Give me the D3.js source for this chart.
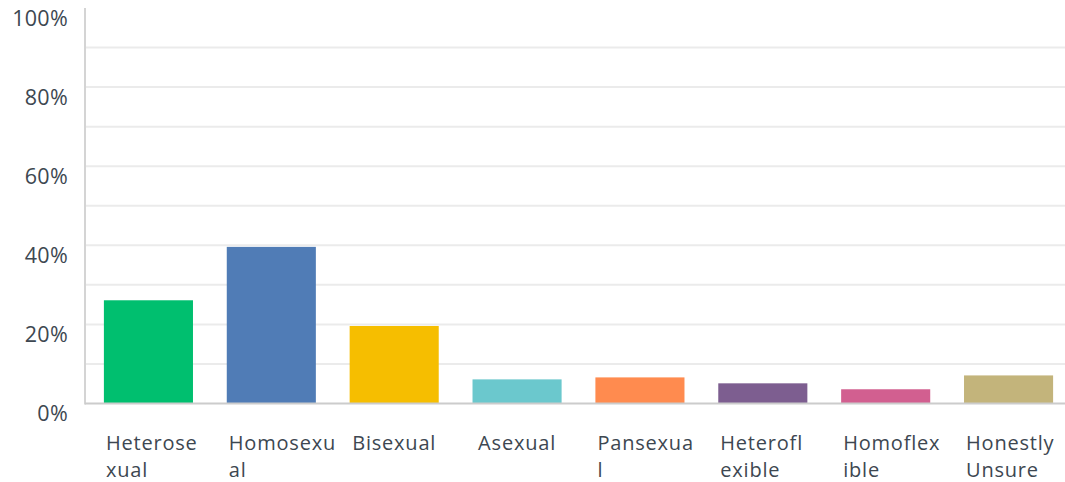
<!DOCTYPE html>
<html lang="en">
<head>
<meta charset="utf-8">
<title>Orientation</title>
<script src="https://cdn.jsdelivr.net/npm/d3@7"></script>
<style>
  html, body { margin: 0; padding: 0; background: #fff; }
  svg { display: block; }
</style>
</head>
<body>
<script>
// chart data
var categories = ["Heterosexual", "Homosexual", "Bisexual", "Asexual", "Pansexual", "Heteroflexible", "Homoflexible", "Honestly Unsure"];
var values = [26.1, 39.6, 19.6, 6.1, 6.6, 5.1, 3.6, 7.1];
var colors = ["#00bf6f", "#507cb6", "#f6be00", "#6bc8cd", "#ff8b4f", "#7d5e90", "#d25f90", "#c3b47b"];
// tick labels, broken the way the source wraps them
var tickLines = [["Heterose", "xual"], ["Homosexu", "al"], ["Bisexual"], ["Asexual"], ["Pansexua", "l"], ["Heterofl", "exible"], ["Homoflex", "ible"], ["Honestly", "Unsure"]];
var yTicks = [0, 20, 40, 60, 80, 100];
var gridTicks = [10, 20, 30, 40, 50, 60, 70, 80, 90];

var w = 1065, h = 482;
var plotLeft = 85, plotTop = 8, plotBottom = 403.5;

var svg = d3.select("body").append("svg")
  .attr("width", w)
  .attr("height", h);

var x = d3.scaleBand()
  .domain(categories)
  .range([87, 1070])
  .paddingInner(0.275)
  .paddingOuter(0.1375);

var y = d3.scaleLinear()
  .domain([0, 100])
  .range([plotBottom, plotTop]);

// gridlines
svg.append("g")
  .selectAll("line")
  .data(gridTicks)
  .enter()
  .append("line")
  .attr("x1", plotLeft)
  .attr("x2", w)
  .attr("y1", function(d) { return y(d); })
  .attr("y2", function(d) { return y(d); })
  .attr("stroke", "#ebebeb")
  .attr("stroke-width", 2);

// bars
svg.append("g")
  .selectAll("rect")
  .data(values)
  .enter()
  .append("rect")
  .attr("x", function(d, i) { return x(categories[i]); })
  .attr("y", function(d) { return y(d); })
  .attr("width", x.bandwidth())
  .attr("height", function(d) { return plotBottom - y(d); })
  .attr("fill", function(d, i) { return colors[i]; });

// axis lines
svg.append("line")
  .attr("x1", plotLeft).attr("x2", plotLeft)
  .attr("y1", plotTop).attr("y2", plotBottom + 1)
  .attr("stroke", "#d4d4d4")
  .attr("stroke-width", 2);
svg.append("line")
  .attr("x1", plotLeft).attr("x2", w)
  .attr("y1", plotBottom).attr("y2", plotBottom)
  .attr("stroke", "#cccccc")
  .attr("stroke-width", 2);

// y labels
var yAxis = d3.axisLeft(y)
  .tickValues(yTicks)
  .tickSize(0)
  .tickPadding(0)
  .tickFormat(function(d) { return d + "%"; });
var ya = svg.append("g")
  .attr("transform", "translate(68,0)")
  .call(yAxis);
ya.select(".domain").remove();
ya.selectAll("text")
  .attr("dy", "0.35em")
  .attr("y", 9.5)
  .attr("font-family", "'Open Sans', sans-serif")
  .attr("font-size", "21.5px")
  .attr("letter-spacing", "0.3px")
  .attr("fill", "#3d4751");

// x labels
var xl = svg.append("g")
  .selectAll("text")
  .data(categories)
  .enter()
  .append("text")
  .attr("font-family", "'Open Sans', sans-serif")
  .attr("font-size", "20px")
  .attr("letter-spacing", "0.8px")
  .attr("fill", "#3d4751")
  .attr("text-anchor", function(d, i) { return tickLines[i].length > 1 ? "start" : "middle"; })
  .attr("transform", function(d, i) {
    var tx = tickLines[i].length > 1 ? x(d) + 2 : x(d) + x.bandwidth() / 2;
    return "translate(" + tx + ",450)";
  });
xl.selectAll("tspan")
  .data(function(d, i) { return tickLines[i]; })
  .enter()
  .append("tspan")
  .attr("x", 0)
  .attr("y", function(d, j) { return j * 27; })
  .text(function(d) { return d; });
</script>
</body>
</html>
